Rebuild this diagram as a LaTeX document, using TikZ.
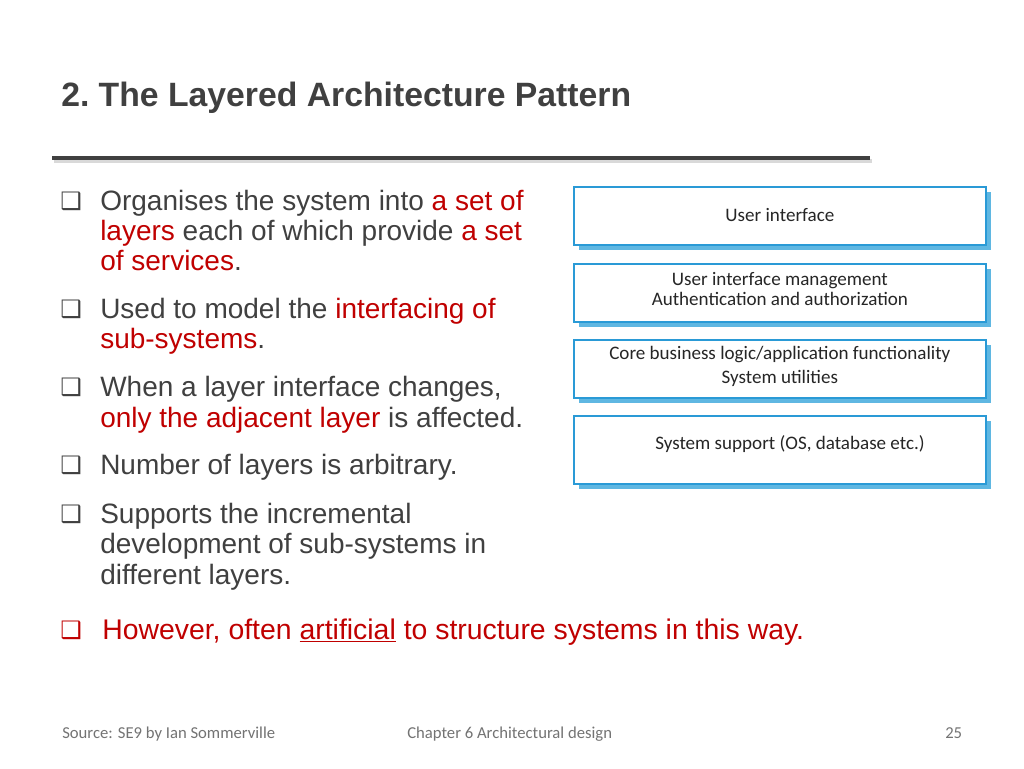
\documentclass[tikz,border=0pt]{standalone}
\usepackage{fontspec}
\setmainfont{Liberation Sans}
\newfontfamily\carl{Carlito}
\newfontfamily\dvs{DejaVu Sans}
\definecolor{myred}{HTML}{C00000}
\definecolor{txt}{HTML}{404040}
\definecolor{bbord}{HTML}{2A9AD6}
\definecolor{bshad}{HTML}{5FB7E2}
\begin{document}
\begin{tikzpicture}[x=0.75pt,y=-0.75pt,
  line/.style={anchor=base west,inner sep=0,font=\fontsize{21}{24}\selectfont,text=txt},
  bul/.style={anchor=base west,inner sep=0,font=\dvs\fontsize{18}{20}\selectfont,text=txt},
  layer/.style={draw=bbord,line width=1.3pt,fill=white,minimum width=309pt,anchor=north west,inner sep=0},
  ltext/.style={font=\carl\fontsize{14.3}{17}\selectfont,text=black!85,align=center,anchor=center},
  foot/.style={anchor=base west,inner sep=0,font=\carl\fontsize{12.5}{14}\selectfont,text=black!55}]
\useasboundingbox[fill=white] (0,0) rectangle (1024,768);
% title
\node[anchor=base west,inner sep=0,font=\bfseries\fontsize{25.3}{29}\selectfont,text=txt] (title) at (61,106) {2.~The \textcolor{black!75}{Layered} Architecture Pattern};
\draw[line width=3.5pt,black!15] (54,161) -- (872,161);
\draw[line width=3.5pt,txt] (52,158) -- (870,158);
% bullets
\foreach \y/\n in {210/b1,318/b2,396/b3,474/b4,523/b5}{\node[bul] (\n) at (60,\y-1) {❑};}
\node[bul,text=myred] (b6) at (60,638) {❑};
\node[line] (l1) at (100,210) {Organises the system into \textcolor{myred}{a set of}};
\node[line] (l2) at (100,240) {\textcolor{myred}{layers} each of which provide \textcolor{myred}{a set}};
\node[line] (l3) at (100,270) {\textcolor{myred}{of services}.};
\node[line] (l4) at (100,318) {Used to model the \textcolor{myred}{interfacing of}};
\node[line] (l5) at (100,348) {\textcolor{myred}{sub-systems}.};
\node[line] (l6) at (100,396) {When a layer interface changes,};
\node[line] (l7) at (100,427) {\textcolor{myred}{only the adjacent layer} is affected.};
\node[line] (l8) at (100,474) {Number of layers is arbitrary.};
\node[line] (l9) at (100,523) {Supports the incremental};
\node[line] (l10) at (100,553) {development of sub-systems in};
\node[line] (l11) at (100,584) {different layers.};
\node[line,text=myred,font=\fontsize{21.3}{24}\selectfont] (l12) at (102,639) {However, often \underline{artificial} to structure systems in this way.};
% layers
\foreach \y/\h/\n in {186/58/L1,263/58/L2,339/58/L3,415/68/L4}{
  \fill[bshad] (579,\y+6) rectangle (991,\y+\h+6);
  \node[layer,minimum height=\h*0.75pt] (\n) at (573,\y) {};
}
\node[ltext] (t1) at ([yshift=1pt]L1.center) {User interface};
\node[ltext] (t2) at ([yshift=3pt]L2.center) {User interface management\\[-2pt]Authentication and authorization};
\node[ltext] (t3) at ([yshift=2pt]L3.center) {Core business logic/application functionality\\[1pt]System utilities};
\node[ltext] (t4) at (790,444) {System support (OS, database etc.)};
% footer
\node[foot] (f1) at (62,738) {Source: SE9 by Ian Sommerville};
\node[foot] (f2) at (407,738) {Chapter 6 Architectural design};
\node[foot] (f3) at (945,738) {25};
\end{tikzpicture}
\end{document}
